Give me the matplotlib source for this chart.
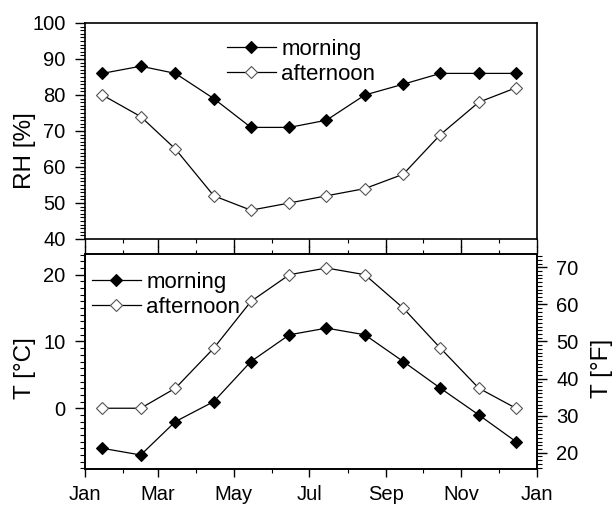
import numpy as np
import matplotlib
matplotlib.use("Agg")
import matplotlib.pyplot as plt
import matplotlib.dates as mdates
from matplotlib.ticker import MultipleLocator, FixedLocator

plt.rcParams['font.family'] = ['Liberation Sans', 'DejaVu Sans']

dates = np.array(['2001-01-15', '2001-02-15', '2001-03-15', '2001-04-15', '2001-05-15', '2001-06-15',
                  '2001-07-15', '2001-08-15', '2001-09-15', '2001-10-15', '2001-11-15', '2001-12-15'],
                 dtype='datetime64[D]')
rh_morning = [86, 88, 86, 79, 71, 71, 73, 80, 83, 86, 86, 86]
rh_afternoon = [80, 74, 65, 52, 48, 50, 52, 54, 58, 69, 78, 82]
t_morning = [-6, -7, -2, 1, 7, 11, 12, 11, 7, 3, -1, -5]
t_afternoon = [0, 0, 3, 9, 16, 20, 21, 20, 15, 9, 3, 0]
series_labels = ['morning', 'afternoon']
rh_ticks = [40, 50, 60, 70, 80, 90, 100]
c_ticks = [0, 10, 20]
f_ticks = [20, 30, 40, 50, 60, 70]

TFS = 14.5   # tick labels
LFS = 17.5   # axis labels
GFS = 16     # legend
W, H = 615, 505
fig = plt.figure(figsize=(W / 100, H / 100), dpi=100)

def fx(px):
    return px / W

def fy(py):
    return 1 - py / H

L, R = 85, 537
ax1 = fig.add_axes([fx(L), fy(239), fx(R - L), fy(23) - fy(239)])
ax2 = fig.add_axes([fx(L), fy(469), fx(R - L), fy(254) - fy(469)])

xmin = np.datetime64('2001-01-01')
xmax = np.datetime64('2002-01-01')

mk = dict(color='black', lw=0.9, marker='D', markersize=6.5, markeredgewidth=0.8)

# Top panel: RH
ax1.plot(dates, rh_morning, markerfacecolor='black', markeredgecolor='black', label=series_labels[0], **mk)
ax1.plot(dates, rh_afternoon, markerfacecolor='white', markeredgecolor='#555555', label=series_labels[1], **mk)
ax1.set_xlim(xmin, xmax)
ax1.set_ylim(40, 100)
ax1.yaxis.set_major_locator(FixedLocator(rh_ticks))
ax1.yaxis.set_minor_locator(MultipleLocator(1))
ax1.set_ylabel('RH [%]', fontsize=LFS)
ax1.yaxis.set_label_coords((36 - L) / (R - L), 0.41)

# Bottom panel: T
ax2.plot(dates, t_morning, markerfacecolor='black', markeredgecolor='black', label=series_labels[0], **mk)
ax2.plot(dates, t_afternoon, markerfacecolor='white', markeredgecolor='#555555', label=series_labels[1], **mk)
ax2.set_xlim(xmin, xmax)
c_lo, c_hi = -9.1, 23.1
ax2.set_ylim(c_lo, c_hi)
ax2.yaxis.set_major_locator(FixedLocator(c_ticks))
ax2.yaxis.set_minor_locator(MultipleLocator(1))
ax2.set_ylabel('T [°C]', fontsize=LFS)
ax2.yaxis.set_label_coords((36 - L) / (R - L), 0.47)

ax3 = ax2.twinx()
ax3.set_ylim(c_lo * 1.8 + 32, c_hi * 1.8 + 32)
ax3.yaxis.set_major_locator(FixedLocator(f_ticks))
ax3.yaxis.set_minor_locator(MultipleLocator(1))
ax3.set_ylabel('T [°F]', fontsize=LFS, rotation=90)
ax3.yaxis.set_label_coords((591 - L) / (R - L), 0.47)

for ax in (ax1, ax2):
    ax.xaxis.set_major_locator(mdates.MonthLocator(bymonth=[1, 3, 5, 7, 9, 11]))
    ax.xaxis.set_minor_locator(mdates.MonthLocator())
    ax.xaxis.set_major_formatter(mdates.DateFormatter('%b'))

for ax in (ax1, ax2, ax3):
    for s in ax.spines.values():
        s.set_linewidth(1.2)

# tick styling
ax1.tick_params(axis='y', which='major', direction='out', length=7, width=1, labelsize=TFS, pad=7, right=False)
ax1.tick_params(axis='y', which='minor', direction='out', length=3.5, width=0.8, right=False)
ax1.tick_params(axis='x', which='major', direction='out', length=5.6, width=1, top=False, labelbottom=False)
ax1.tick_params(axis='x', which='minor', direction='out', length=3.2, width=0.8, top=False)

ax2.tick_params(axis='y', which='major', direction='out', length=7, width=1, labelsize=TFS, pad=7, right=False)
ax2.tick_params(axis='y', which='minor', direction='out', length=3.5, width=0.8, right=False)
ax2.tick_params(axis='x', which='major', direction='out', length=5.6, width=1, top=True, labelsize=TFS, pad=6)
ax2.tick_params(axis='x', which='minor', direction='out', length=3.2, width=0.8, top=True)

ax3.tick_params(axis='y', which='major', direction='out', length=7, width=1, labelsize=TFS, pad=7)
ax3.tick_params(axis='y', which='minor', direction='out', length=3.5, width=0.8)

leg_kw = dict(frameon=False, fontsize=GFS, handlelength=2.2, handletextpad=0.25,
              labelspacing=0.2, borderpad=0, borderaxespad=0, loc='center left',
              bbox_transform=fig.transFigure)
ax1.legend(bbox_to_anchor=(fx(227), fy(62)), **leg_kw)
ax2.legend(bbox_to_anchor=(fx(92), fy(295)), **leg_kw)

fig.savefig('out.png', dpi=100)
